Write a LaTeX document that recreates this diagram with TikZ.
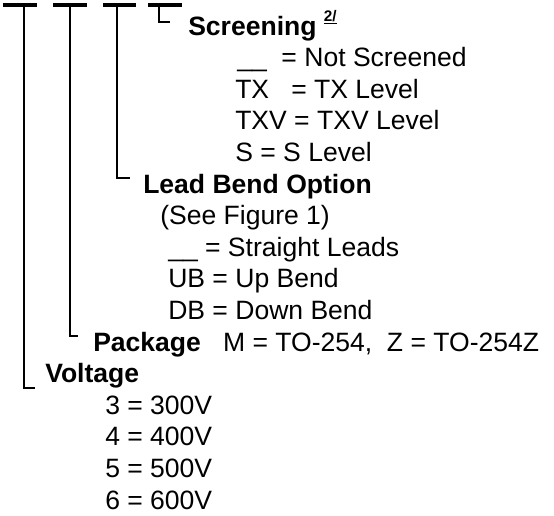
\documentclass[tikz,border=0pt]{standalone}
\usepackage{fontspec}
\setmainfont{Liberation Sans}
\usepackage{xcolor}
\usepackage{tikz}

\begin{document}
\begin{tikzpicture}[
    x=0.75pt, y=-0.75pt,
    head/.style={anchor=base west, inner sep=0pt, font=\fontsize{19.9}{24}\selectfont\bfseries},
    item/.style={anchor=base west, inner sep=0pt, font=\fontsize{19.9}{24}\selectfont},
    bar/.style={line width=2.6pt},
    lead/.style={line width=1pt}
]
    \useasboundingbox (0,0) rectangle (554,515);

    % Bars
    \draw[bar] (3,5) -- (37,5);
    \draw[bar] (53,5) -- (87,5);
    \draw[bar] (103,5) -- (136,5);
    \draw[bar] (148,5) -- (182,5);

    % Corner points
    \coordinate (volttop) at (24,5);
    \coordinate (pkgtop) at (70,5);
    \coordinate (bendtop) at (117,5);
    \coordinate (scrtop) at (159,5);
    \coordinate (voltend) at (35,388);
    \coordinate (pkgend) at (78,336);
    \coordinate (bendend) at (130,178);
    \coordinate (scrend) at (170,22);

    % Screening
    \node[head] (screening) at (188,35) {Screening \raisebox{10.5pt}{\fontsize{11.5}{12}\selectfont\underline{2/}}};
    \node[item] (notscr) at (237,66.6) {\_\_\ \ = Not Screened};
    \node[item] (tx) at (235,98.2) {TX\ \ \ = TX Level};
    \node[item] (txv) at (235,129.8) {TXV = TXV Level};
    \node[item] (slevel) at (235,161.4) {S = S Level};

    % Lead bend
    \node[head] (bend) at (143,193) {Lead Bend Option};
    \node[item] (seefig) at (160,224.6) {(See Figure 1)};
    \node[item] (straight) at (168,256.2) {\_\_ = Straight Leads};
    \node[item] (upbend) at (168,287.8) {UB = Up Bend};
    \node[item] (downbend) at (168,319.4) {DB = Down Bend};

    % Package
    \node[head] (package) at (93,351) {Package\ \ \ {\mdseries M = TO-254,\ \ Z = TO-254Z}};

    % Voltage
    \node[head] (voltage) at (45,382.6) {Voltage};
    \node[item] (v3) at (105,414.2) {3 = 300V};
    \node[item] (v4) at (105,445.8) {4 = 400V};
    \node[item] (v5) at (105,477.4) {5 = 500V};
    \node[item] (v6) at (105,509) {6 = 600V};

    % Leads
    \draw[lead] (scrtop) |- (scrend);
    \draw[lead] (bendtop) |- (bendend);
    \draw[lead] (pkgtop) |- (pkgend);
    \draw[lead] (volttop) |- (voltend);
\end{tikzpicture}
\end{document}
